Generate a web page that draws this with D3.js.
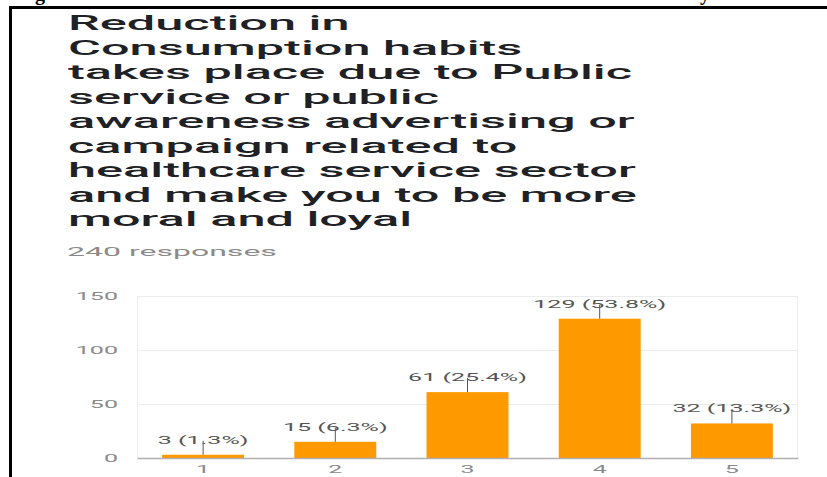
<!DOCTYPE html>
<html>
<head>
<meta charset="utf-8">
<script src="https://cdn.jsdelivr.net/npm/d3@7"></script>
<style>
  html, body { margin: 0; padding: 0; background: #ffffff; }
  svg { display: block; }
</style>
</head>
<body>
<svg id="chart" width="827" height="477"></svg>
<script>
// Question text, one entry per wrapped line
const titleLines = [
  "Reduction in",
  "Consumption habits",
  "takes place due to Public",
  "service or public",
  "awareness advertising or",
  "campaign related to",
  "healthcare service sector",
  "and make you to be more",
  "moral and loyal"
];
const responsesText = "240 responses";

// Answer scale and the number of responses for each answer
const categories = ["1", "2", "3", "4", "5"];
const counts = [3, 15, 61, 129, 32];
const percents = ["1.3%", "6.3%", "25.4%", "53.8%", "13.3%"];
const yTicks = [0, 50, 100, 150];

const svg = d3.select("#chart");

// Page frame: heavy rule along the top and the left edge
svg.append("line").attr("x1", 10).attr("x2", 827).attr("y1", 7.5).attr("y2", 7.5)
  .attr("stroke", "#000").attr("stroke-width", 3);
svg.append("line").attr("x1", 10.5).attr("x2", 10.5).attr("y1", 6).attr("y2", 477)
  .attr("stroke", "#000").attr("stroke-width", 3);

// Descenders of the caption line above the frame
svg.append("text").attr("x", 35).attr("y", 0).text("g")
  .attr("font-family", "Liberation Serif").attr("font-weight", "bold").attr("font-size", 20);
svg.append("text").attr("x", 700).attr("y", 0).text("y")
  .attr("font-family", "Liberation Serif").attr("font-weight", "bold").attr("font-size", 20);

// Horizontally widened text helper: scales a text node about its anchor x
function widen(sel, x, y, k) {
  sel.attr("x", 0).attr("y", 0)
    .attr("transform", `translate(${x},${y}) scale(${k},1)`);
}

// Question title
const titleG = svg.append("g");
const titleTexts = titleG.selectAll("text").data(titleLines).join("text")
  .text(d => d)
  .attr("font-family", "Roboto, 'Liberation Sans', sans-serif")
  .attr("font-size", 21)
  .attr("font-weight", 500)
  .attr("fill", "#202124");
const refLine = titleTexts.filter(d => d === "and make you to be more").node();
const titleK = 569 / refLine.getComputedTextLength();
titleTexts.each(function(d, i) {
  widen(d3.select(this), 68, 30 + i * 24.5, titleK);
});

// Response count
const resp = svg.append("text").text(responsesText)
  .attr("font-family", "Roboto, 'Liberation Sans', sans-serif")
  .attr("font-size", 12)
  .attr("fill", "#8a8a8a");
const respK = 210 / resp.node().getComputedTextLength();
widen(resp, 67, 256, respK);

// Chart scales
const plotLeft = 137, plotRight = 798, plotTop = 296, plotBottom = 458;
const x = d3.scaleBand().domain(categories).range([plotLeft, plotRight])
  .paddingInner(0.38).paddingOuter(0.19);
const y = d3.scaleLinear().domain([0, 150]).range([plotBottom, plotTop]);

// Width factor for the small chart labels
const probe = svg.append("text").text("129 (53.8%)")
  .attr("font-family", "Roboto, 'Liberation Sans', sans-serif").attr("font-size", 11);
const labelK = 133 / probe.node().getComputedTextLength();
probe.remove();

// Gridlines and y tick labels
const yAxis = svg.append("g").attr("transform", `translate(${plotLeft},0)`)
  .call(d3.axisLeft(y).tickValues(yTicks).tickSize(-(plotRight - plotLeft)).tickPadding(19));
yAxis.select(".domain").remove();
yAxis.selectAll(".tick line").attr("stroke", "#ececec").attr("stroke-width", 1);
yAxis.selectAll(".tick text")
  .attr("font-family", "Roboto, 'Liberation Sans', sans-serif")
  .attr("font-size", 11).attr("fill", "#8a8a8a")
  .each(function() {
    const t = d3.select(this);
    t.attr("dy", "0.35em").attr("x", 0)
      .attr("transform", `translate(-19,0) scale(${labelK},1)`);
  });

// Plot-area side borders
svg.append("line").attr("x1", plotLeft + 0.5).attr("x2", plotLeft + 0.5)
  .attr("y1", plotTop).attr("y2", plotBottom).attr("stroke", "#ececec");
svg.append("line").attr("x1", plotRight - 0.5).attr("x2", plotRight - 0.5)
  .attr("y1", plotTop).attr("y2", plotBottom).attr("stroke", "#ececec");

// Bars
const data = categories.map((c, i) => ({ cat: c, n: counts[i], pct: percents[i] }));
svg.append("g").selectAll("rect").data(data).join("rect")
  .attr("x", d => x(d.cat))
  .attr("width", x.bandwidth())
  .attr("y", d => y(d.n))
  .attr("height", d => y(0) - y(d.n))
  .attr("fill", "#ff9900");

// Baseline axis with category labels
const xAxis = svg.append("g").attr("transform", `translate(0,${plotBottom})`)
  .call(d3.axisBottom(x).tickSize(0).tickPadding(7));
xAxis.select(".domain").attr("stroke", "#b0b0b0").attr("stroke-width", 1.5);
xAxis.selectAll(".tick text")
  .attr("font-family", "Roboto, 'Liberation Sans', sans-serif")
  .attr("font-size", 11).attr("fill", "#8a8a8a")
  .each(function() {
    d3.select(this).attr("transform", `scale(${labelK},1)`);
  });

// Value annotations with stems
const ann = svg.append("g");
ann.selectAll("line").data(data).join("line")
  .attr("x1", d => x(d.cat) + x.bandwidth() / 2)
  .attr("x2", d => x(d.cat) + x.bandwidth() / 2)
  .attr("y1", d => y(d.n))
  .attr("y2", d => y(d.n) - 14)
  .attr("stroke", "#555").attr("stroke-width", 1);
ann.selectAll("text").data(data).join("text")
  .text(d => `${d.n} (${d.pct})`)
  .attr("font-family", "Roboto, 'Liberation Sans', sans-serif")
  .attr("font-size", 11).attr("fill", "#555")
  .attr("text-anchor", "middle")
  .each(function(d) {
    widen(d3.select(this), x(d.cat) + x.bandwidth() / 2, y(d.n) - 11, labelK);
  });
</script>
</body>
</html>
